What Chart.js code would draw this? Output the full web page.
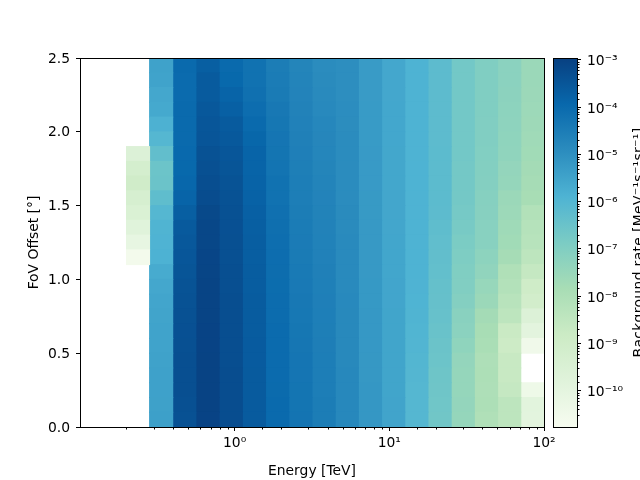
<!DOCTYPE html>
<html>
<head>
<meta charset="utf-8">
<style>
html,body{margin:0;padding:0;background:#fff;overflow:hidden}
canvas{position:absolute;left:0;top:0}
</style>
<script src="https://cdn.jsdelivr.net/npm/chart.js@4"></script>
</head>
<body>
<canvas id="main" width="640" height="480"></canvas>
<canvas id="cbar" width="640" height="480"></canvas>
<script>
// Energy bin edges (TeV) of the columns that hold data
const energyEdges = [0.2,0.282,0.398,0.562,0.794,1.122,1.585,2.239,3.162,4.467,6.31,8.913,12.59,17.78,25.12,35.48,50.12,70.79,100];
// FoV offset bin centres (deg), top row first
const offsets = [2.45,2.35,2.25,2.15,2.05,1.95,1.85,1.75,1.65,1.55,1.45,1.35,1.25,1.15,1.05,0.95,0.85,0.75,0.65,0.55,0.45,0.35,0.25,0.15,0.05];
// log10 of background rate per energy column, top row first
const col00 = [null,null,null,null,null,null,-9.6,-9.2,-9.0,-9.3,-9.5,-9.8,-10.1,-10.6,null,null,null,null,null,null,null,null,null,null,null];
const col01 = [-5.47,-5.5,-5.6,-5.65,-5.85,-6.05,-6.32,-6.54,-6.52,-6.26,-6.05,-5.93,-5.9,-5.87,-5.7,-5.6,-5.55,-5.52,-5.5,-5.5,-5.47,-5.45,-5.45,-5.43,-5.42];
const col02 = [-4.0,-4.02,-4.02,-4.0,-4.0,-3.98,-3.97,-3.95,-3.92,-3.85,-3.72,-3.6,-3.55,-3.5,-3.47,-3.42,-3.4,-3.38,-3.36,-3.34,-3.33,-3.33,-3.33,-3.35,-3.37];
const col03 = [-3.72,-3.62,-3.62,-3.55,-3.5,-3.48,-3.4,-3.35,-3.3,-3.25,-3.17,-3.13,-3.12,-3.09,-3.07,-3.06,-3.05,-3.05,-3.04,-3.04,-3.03,-3.03,-3.03,-3.03,-3.04];
const col04 = [-4.0,-3.95,-3.85,-3.75,-3.62,-3.58,-3.5,-3.47,-3.42,-3.4,-3.37,-3.36,-3.35,-3.34,-3.33,-3.32,-3.31,-3.3,-3.3,-3.29,-3.29,-3.28,-3.28,-3.28,-3.28];
const col05 = [-4.2,-4.2,-4.15,-4.08,-4.0,-3.9,-3.85,-3.85,-3.82,-3.8,-3.75,-3.72,-3.68,-3.68,-3.67,-3.66,-3.65,-3.64,-3.64,-3.63,-3.63,-3.62,-3.62,-3.62,-3.62];
const col06 = [-4.5,-4.48,-4.45,-4.38,-4.33,-4.3,-4.28,-4.25,-4.2,-4.2,-4.15,-4.12,-4.1,-4.08,-4.07,-4.06,-4.05,-4.04,-4.03,-4.03,-4.02,-4.02,-4.01,-4.0,-4.0];
const col07 = [-4.72,-4.7,-4.68,-4.65,-4.62,-4.6,-4.57,-4.55,-4.52,-4.52,-4.5,-4.48,-4.46,-4.44,-4.42,-4.4,-4.38,-4.36,-4.34,-4.32,-4.3,-4.3,-4.28,-4.28,-4.27];
const col08 = [-4.9,-4.88,-4.86,-4.84,-4.78,-4.76,-4.74,-4.72,-4.7,-4.68,-4.66,-4.65,-4.63,-4.62,-4.6,-4.58,-4.57,-4.56,-4.55,-4.54,-4.53,-4.52,-4.52,-4.5,-4.5];
const col09 = [-4.97,-4.97,-4.96,-4.95,-4.93,-4.92,-4.92,-4.9,-4.9,-4.9,-4.88,-4.88,-4.87,-4.86,-4.85,-4.85,-4.84,-4.83,-4.83,-4.82,-4.82,-4.81,-4.81,-4.8,-4.8];
const col10 = [-5.3,-5.3,-5.3,-5.28,-5.28,-5.28,-5.27,-5.27,-5.27,-5.26,-5.26,-5.25,-5.25,-5.24,-5.24,-5.23,-5.23,-5.22,-5.22,-5.22,-5.21,-5.21,-5.2,-5.2,-5.2];
const col11 = [-5.6,-5.6,-5.6,-5.59,-5.59,-5.59,-5.58,-5.58,-5.58,-5.57,-5.57,-5.57,-5.56,-5.56,-5.56,-5.55,-5.55,-5.54,-5.54,-5.54,-5.53,-5.53,-5.53,-5.52,-5.52];
const col12 = [-5.88,-5.88,-5.88,-5.88,-5.88,-5.88,-5.88,-5.88,-5.88,-5.88,-5.88,-5.88,-5.88,-5.88,-5.88,-5.9,-5.92,-5.94,-5.95,-5.97,-5.99,-6.02,-6.03,-6.04,-6.05];
const col13 = [-6.22,-6.22,-6.22,-6.22,-6.21,-6.21,-6.2,-6.2,-6.2,-6.2,-6.22,-6.26,-6.3,-6.32,-6.35,-6.38,-6.4,-6.43,-6.47,-6.52,-6.55,-6.58,-6.6,-6.63,-6.65];
const col14 = [-6.7,-6.7,-6.7,-6.7,-6.7,-6.7,-6.7,-6.71,-6.71,-6.72,-6.75,-6.8,-6.87,-6.93,-6.98,-7.0,-7.05,-7.17,-7.22,-7.3,-7.4,-7.42,-7.42,-7.4,-7.42];
const col15 = [-6.97,-6.97,-6.98,-6.98,-7.0,-7.0,-7.02,-7.04,-7.06,-7.1,-7.12,-7.14,-7.15,-7.25,-7.35,-7.47,-7.55,-7.75,-7.84,-7.9,-8.0,-7.98,-8.0,-7.98,-8.05];
const col16 = [-7.22,-7.22,-7.23,-7.25,-7.27,-7.3,-7.33,-7.4,-7.42,-7.55,-7.6,-7.65,-7.7,-7.8,-8.05,-8.15,-8.27,-8.4,-8.75,-8.85,-8.7,-8.7,-8.63,-8.4,-8.4];
const col17 = [-7.55,-7.56,-7.58,-7.6,-7.62,-7.66,-7.7,-7.75,-7.8,-7.84,-8.1,-8.2,-8.25,-8.4,-8.63,-8.97,-9.1,-9.6,-9.92,-10.48,null,null,-10.4,-9.88,-9.92];
const energyColumns = [col00,col01,col02,col03,col04,col05,col06,col07,col08,col09,col10,col11,col12,col13,col14,col15,col16,col17];
// Colour-bar limits (log10 of rate)
const logMin = -10.77, logMax = -2.96;
// GnBu stops
const gnbu = ['#f7fcf0','#e0f3db','#ccebc5','#a8ddb5','#7bccc4','#4eb3d3','#2b8cbe','#0868ac','#084081'];

const FONT = {family:'"DejaVu Sans"', size:13.89};
const BLACK = '#000';
function hexRGB(h){return [1,3,5].map(i=>parseInt(h.substr(i,2),16));}
function colorFor(L){
  const t = Math.max(0,Math.min(1,(L-logMin)/(logMax-logMin)))*(gnbu.length-1);
  const i = Math.min(Math.floor(t),gnbu.length-2), f=t-i;
  const a=hexRGB(gnbu[i]), b=hexRGB(gnbu[i+1]);
  return 'rgb('+a.map((v,k)=>Math.round(v+(b[k]-v)*f)).join(',')+')';
}
function isDecade(v){const e=Math.log10(v);return Math.abs(e-Math.round(e))<1e-6;}
const SUP={'0':'⁰','1':'¹','2':'²','3':'³','4':'⁴','5':'⁵','6':'⁶','7':'⁷','8':'⁸','9':'⁹','-':'⁻'};
function powLabel(v){
  if(!isDecade(v))return '';
  return '10'+String(Math.round(Math.log10(v))).split('').map(c=>SUP[c]).join('');
}
const minorTicks = {
  id:'minorTicks',
  afterDraw(chart){
    const ctx=chart.ctx;ctx.save();ctx.strokeStyle=BLACK;ctx.lineWidth=1;
    Object.values(chart.scales).forEach(s=>{
      if(s.type!=='logarithmic'||!s.options.display)return;
      ctx.beginPath();
      s.ticks.forEach(t=>{
        if(isDecade(t.value)||t.value<=s.min||t.value>=s.max)return;
        const p=Math.round(s.getPixelForValue(t.value));
        if(s.axis==='x'){ctx.moveTo(p+.5,s.top);ctx.lineTo(p+.5,s.top+2.5);}
        else{ctx.moveTo(s.left,p+.5);ctx.lineTo(s.left+2.5,p+.5);}
      });
      ctx.stroke();
    });
    ctx.restore();
  }
};
const frame = {
  id:'frame',
  afterDatasetsDraw(chart){
    const a=chart.chartArea,ctx=chart.ctx;ctx.save();ctx.strokeStyle=BLACK;ctx.lineWidth=1;
    ctx.strokeRect(Math.round(a.left)+.5,Math.round(a.top)+.5,Math.round(a.right-a.left),Math.round(a.bottom-a.top));
    ctx.restore();
  }
};
const majorColor = c => (c.tick && isDecade(c.tick.value)) ? BLACK : 'rgba(0,0,0,0)';

const datasets = energyColumns.map((col,i)=>{
  const cells = col.map((L,r)=>({y:offsets[r],x:[energyEdges[i],energyEdges[i+1]],L})).filter(c=>c.L!==null);
  return {data:cells.map(c=>({y:c.y,x:c.x})), backgroundColor:cells.map(c=>colorFor(c.L))};
});

new Chart(document.getElementById('main'),{
  type:'bar',
  data:{datasets},
  plugins:[minorTicks,frame],
  options:{
    indexAxis:'y',responsive:false,animation:false,
    layout:{padding:{top:58,right:96,bottom:0,left:0},autoPadding:false},
    datasets:{bar:{grouped:false,barPercentage:1,categoryPercentage:1,inflateAmount:0.5,borderWidth:0}},
    plugins:{legend:{display:false},tooltip:{enabled:false}},
    scales:{
      x:{type:'logarithmic',position:'bottom',min:0.1001,max:100,
        afterFit(s){s.height=53;},
        grid:{drawOnChartArea:false,tickLength:4,tickColor:majorColor,tickWidth:1},
        border:{display:false},
        ticks:{autoSkip:false,maxRotation:0,padding:4,color:BLACK,font:FONT,callback:powLabel},
        title:{display:true,text:'Energy [TeV]',color:BLACK,font:FONT,padding:{top:4,bottom:0}}
      },
      y:{type:'linear',position:'left',min:0,max:2.5,offset:false,
        afterFit(s){s.width=80;},
        grid:{drawOnChartArea:false,offset:false,tickLength:4,tickColor:BLACK,tickWidth:1},
        border:{display:false},
        ticks:{stepSize:0.5,autoSkip:false,padding:6,labelOffset:1,color:BLACK,font:FONT,callback:v=>v.toFixed(1)},
        title:{display:true,text:'FoV Offset [°]',color:BLACK,font:FONT,padding:{top:26,bottom:0}}
      }
    }
  }
});

const cbarTitle = {
  id:'cbarTitle',
  afterDraw(chart){
    const ctx=chart.ctx;ctx.save();
    ctx.translate(642.5,242.5);ctx.rotate(-Math.PI/2);
    ctx.font='13.89px "DejaVu Sans"';ctx.fillStyle=BLACK;ctx.textAlign='center';ctx.textBaseline='alphabetic';
    ctx.letterSpacing='0.35px';
    ctx.fillText('Background rate [MeV⁻¹s⁻¹sr⁻¹]',0,0);
    ctx.restore();
  }
};
new Chart(document.getElementById('cbar'),{
  type:'bar',
  data:{labels:['rate'],datasets:[{
    data:[[Math.pow(10,logMin),Math.pow(10,logMax)]],
    backgroundColor(c){
      const a=c.chart.chartArea;if(!a)return gnbu[4];
      const g=c.chart.ctx.createLinearGradient(0,a.bottom,0,a.top);
      gnbu.forEach((h,i)=>g.addColorStop(i/(gnbu.length-1),h));
      return g;
    },
    barPercentage:1,categoryPercentage:1,borderWidth:0
  }]},
  plugins:[minorTicks,frame,cbarTitle],
  options:{
    responsive:false,animation:false,
    layout:{padding:{top:58,right:0,bottom:53,left:553},autoPadding:false},
    plugins:{legend:{display:false},tooltip:{enabled:false}},
    scales:{
      x:{display:false},
      y:{type:'logarithmic',position:'right',min:Math.pow(10,logMin),max:Math.pow(10,logMax),
        afterFit(s){s.width=63;},
        grid:{drawOnChartArea:false,tickLength:4,tickColor:majorColor,tickWidth:1},
        border:{display:false},
        ticks:{autoSkip:false,padding:6,labelOffset:2,color:BLACK,font:FONT,callback:powLabel}
      }
    }
  }
});
</script>
</body>
</html>
